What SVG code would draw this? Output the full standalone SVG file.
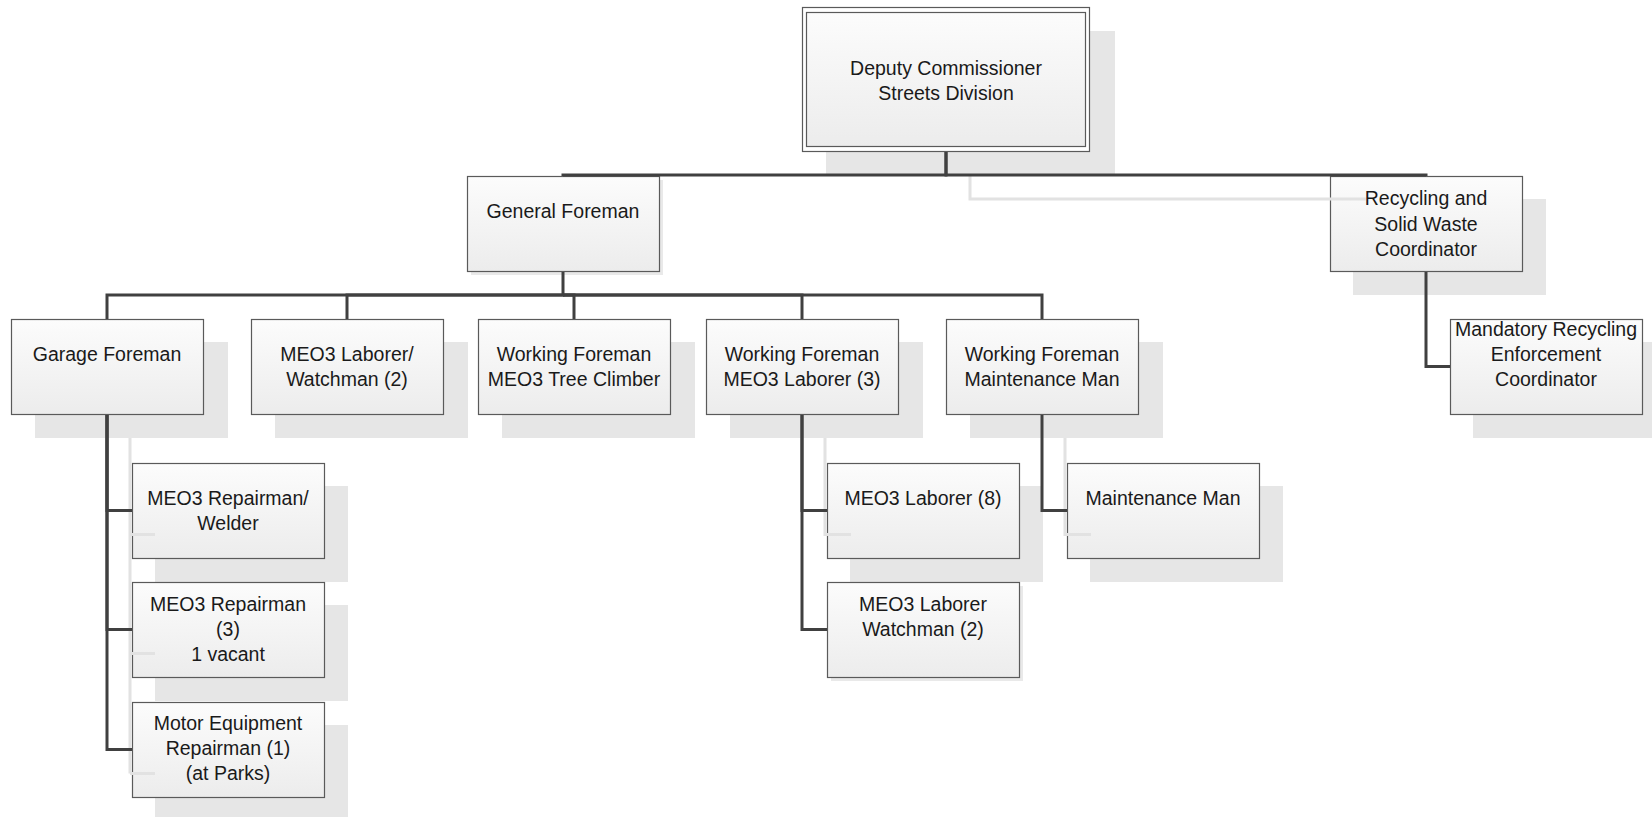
<svg xmlns="http://www.w3.org/2000/svg" width="1652" height="817" viewBox="0 0 1652 817">
  <style>
    .shadow { fill: #e6e6e6; }
    .shadow-sm { fill: #e9e9e9; }
    .box { fill: url(#boxFill); stroke: #5a5a5a; stroke-width: 1.2; }
    .label { font-family: "Liberation Sans", Arial, sans-serif; font-size: 19.5px; fill: #1a1a1a; text-anchor: middle; }
    .conn { fill: none; stroke: #404040; stroke-width: 3; }
    .conn-shadow { fill: none; stroke: #e2e2e2; stroke-width: 3; }
  </style>
  <defs>
    <linearGradient id="boxFill" x1="0" y1="0" x2="0" y2="1">
      <stop offset="0" stop-color="#fcfcfc"/>
      <stop offset="1" stop-color="#ececec"/>
    </linearGradient>
  </defs>
  <rect width="1652" height="817" fill="#ffffff"/>

  <!-- Level 0 -->
  <g id="deputy-commissioner">
    <rect class="shadow" x="826" y="31" width="289" height="144"/>
    <rect x="802.5" y="7.5" width="287" height="144" fill="#ffffff" stroke="#5a5a5a" stroke-width="1.2"/>
    <rect class="box" x="806.5" y="12.5" width="279" height="134"/>
    <text class="label" x="946" y="74.5">Deputy Commissioner</text>
    <text class="label" x="946" y="99.5">Streets Division</text>
  </g>

  <!-- Level 1 -->
  <g id="general-foreman">
    <rect class="shadow-sm" x="471" y="180" width="192" height="95"/>
    <rect class="box" x="467.5" y="176.5" width="192" height="95"/>
    <text class="label" x="563" y="217.5">General Foreman</text>
  </g>
  <g id="recycling-coordinator">
    <rect class="shadow" x="1353" y="199" width="193" height="96"/>
    <rect class="box" x="1330.5" y="176.5" width="192" height="95"/>
    <text class="label" x="1426" y="205">Recycling and</text>
    <text class="label" x="1426" y="230.5">Solid Waste</text>
    <text class="label" x="1426" y="256">Coordinator</text>
  </g>

  <!-- Level 2 -->
  <g id="garage-foreman">
    <rect class="shadow" x="35" y="342" width="193" height="96"/>
    <rect class="box" x="11.5" y="319.5" width="192" height="95"/>
    <text class="label" x="107" y="360.5">Garage Foreman</text>
  </g>
  <g id="meo3-laborer-watchman">
    <rect class="shadow" x="275" y="342" width="193" height="96"/>
    <rect class="box" x="251.5" y="319.5" width="192" height="95"/>
    <text class="label" x="347" y="360.5">MEO3 Laborer/</text>
    <text class="label" x="347" y="385.5">Watchman (2)</text>
  </g>
  <g id="wf-tree-climber">
    <rect class="shadow" x="502" y="342" width="193" height="96"/>
    <rect class="box" x="478.5" y="319.5" width="192" height="95"/>
    <text class="label" x="574" y="360.5">Working Foreman</text>
    <text class="label" x="574" y="385.5">MEO3 Tree Climber</text>
  </g>
  <g id="wf-meo3-laborer">
    <rect class="shadow" x="730" y="342" width="193" height="96"/>
    <rect class="box" x="706.5" y="319.5" width="192" height="95"/>
    <text class="label" x="802" y="360.5">Working Foreman</text>
    <text class="label" x="802" y="385.5">MEO3 Laborer (3)</text>
  </g>
  <g id="wf-maintenance-man">
    <rect class="shadow" x="970" y="342" width="193" height="96"/>
    <rect class="box" x="946.5" y="319.5" width="192" height="95"/>
    <text class="label" x="1042" y="360.5">Working Foreman</text>
    <text class="label" x="1042" y="385.5">Maintenance Man</text>
  </g>
  <g id="mandatory-recycling">
    <rect class="shadow" x="1473" y="342" width="193" height="96"/>
    <rect class="box" x="1450.5" y="319.5" width="192" height="95"/>
    <text class="label" x="1546" y="335.5">Mandatory Recycling</text>
    <text class="label" x="1546" y="360.5">Enforcement</text>
    <text class="label" x="1546" y="385.5">Coordinator</text>
  </g>

  <!-- Level 3 -->
  <g id="meo3-repairman-welder">
    <rect class="shadow" x="155" y="486" width="193" height="96"/>
    <rect class="box" x="132.5" y="463.5" width="192" height="95"/>
    <text class="label" x="228" y="504.5">MEO3 Repairman/</text>
    <text class="label" x="228" y="529.5">Welder</text>
  </g>
  <g id="meo3-repairman">
    <rect class="shadow" x="155" y="605" width="193" height="96"/>
    <rect class="box" x="132.5" y="582.5" width="192" height="95"/>
    <text class="label" x="228" y="610.5">MEO3 Repairman</text>
    <text class="label" x="228" y="635.5">(3)</text>
    <text class="label" x="228" y="660.5">1 vacant</text>
  </g>
  <g id="motor-equipment-repairman">
    <rect class="shadow" x="155" y="725" width="193" height="96"/>
    <rect class="box" x="132.5" y="702.5" width="192" height="95"/>
    <text class="label" x="228" y="730">Motor Equipment</text>
    <text class="label" x="228" y="755">Repairman (1)</text>
    <text class="label" x="228" y="780">(at Parks)</text>
  </g>
  <g id="meo3-laborer-8">
    <rect class="shadow" x="850" y="486" width="193" height="96"/>
    <rect class="box" x="827.5" y="463.5" width="192" height="95"/>
    <text class="label" x="923" y="504.5">MEO3 Laborer (8)</text>
  </g>
  <g id="meo3-laborer-watchman-2">
    <rect class="shadow-sm" x="831" y="586" width="192" height="95"/>
    <rect class="box" x="827.5" y="582.5" width="192" height="95"/>
    <text class="label" x="923" y="610.5">MEO3 Laborer</text>
    <text class="label" x="923" y="635.5">Watchman (2)</text>
  </g>
  <g id="maintenance-man">
    <rect class="shadow" x="1090" y="486" width="193" height="96"/>
    <rect class="box" x="1067.5" y="463.5" width="192" height="95"/>
    <text class="label" x="1163" y="504.5">Maintenance Man</text>
  </g>

  <!-- Connectors -->
  <g id="connectors">
    <!-- connector shadows -->
    <path class="conn-shadow" d="M970,176 V199 H1366"/>
    <path class="conn-shadow" d="M130,438 V773.5"/>
    <path class="conn-shadow" d="M130,534.5 H155 M130,653.5 H155 M130,773.5 H155"/>
    <path class="conn-shadow" d="M825,438 V534.5 H851"/>
    <path class="conn-shadow" d="M1065,438 V534.5 H1091"/>

    <!-- reporting lines -->
    <path class="conn" d="M946,152 V175 H563 V176"/>
    <path class="conn" d="M946,152 V175 H1426 V176"/>

    <path class="conn" d="M563,272 V295 H107 V319"/>
    <path class="conn" d="M563,295 H347 V319"/>
    <path class="conn" d="M563,295 H574 V319"/>
    <path class="conn" d="M563,295 H802 V319"/>
    <path class="conn" d="M563,295 H1042 V319"/>

    <path class="conn" d="M107,415 V510.5 H132"/>
    <path class="conn" d="M107,415 V629.5 H132"/>
    <path class="conn" d="M107,415 V749.5 H132"/>

    <path class="conn" d="M802,415 V510.5 H827"/>
    <path class="conn" d="M802,415 V629.5 H827"/>

    <path class="conn" d="M1042,415 V510.5 H1067"/>

    <path class="conn" d="M1426,272 V366.5 H1450"/>
  </g>
</svg>
